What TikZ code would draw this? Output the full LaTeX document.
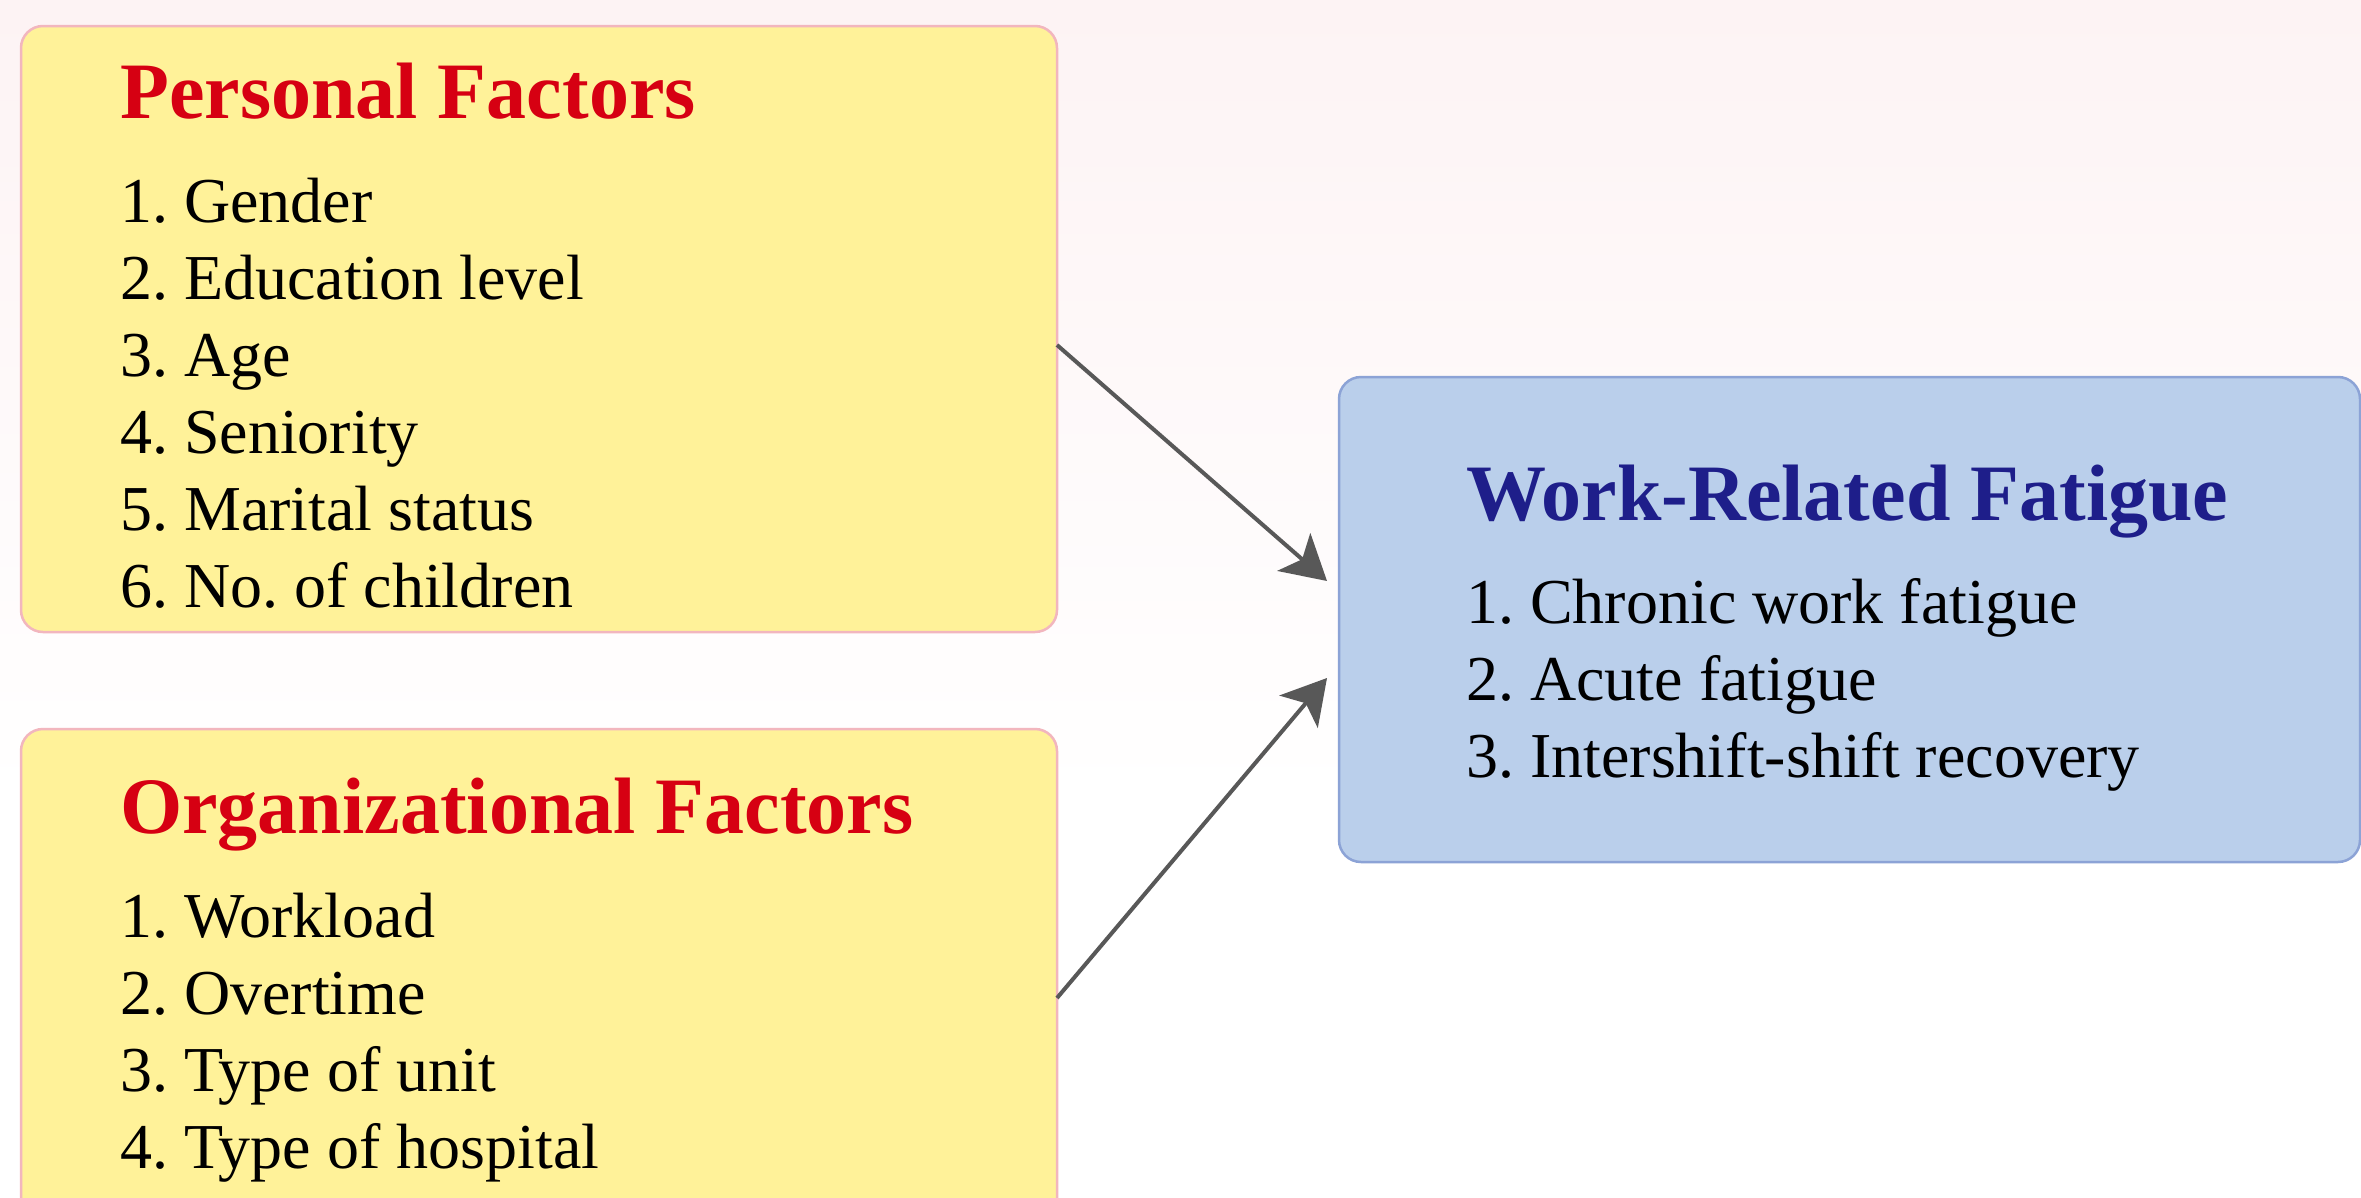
\documentclass[tikz,border=0pt]{standalone}
\usepackage{fontspec}
\setmainfont{Liberation Serif}
\usetikzlibrary{arrows.meta}
\definecolor{bgpink}{RGB}{253,243,244}
\definecolor{yfill}{RGB}{255,242,153}
\definecolor{ydraw}{RGB}{242,182,190}
\definecolor{bfill}{RGB}{186,207,235}
\definecolor{bdraw}{RGB}{140,163,214}
\definecolor{hred}{RGB}{214,0,18}
\definecolor{hblue}{RGB}{30,30,138}
\definecolor{arrowgray}{RGB}{88,88,88}
\frenchspacing
\begin{document}
\begin{tikzpicture}[x=1pt,y=-1pt,
  boxbase/.style={rectangle, anchor=north west, inner sep=0pt, outer sep=0pt, line width=2.5pt, rounded corners=22pt},
  factorbox/.style={boxbase, draw=ydraw, fill=yfill},
  outcomebox/.style={boxbase, draw=bdraw, fill=bfill},
  headtext/.style={anchor=base west, inner sep=0pt, font=\fontsize{80}{96}\selectfont\bfseries},
  itemtext/.style={anchor=base west, inner sep=0pt, text=black, font=\fontsize{64}{77}\selectfont},
  conn/.style={draw=arrowgray, line width=4pt, -{Stealth[length=44pt,width=50pt,inset=11pt]}}
]
\useasboundingbox (0,0) rectangle (2361,1197);
\clip (0,0) rectangle (2361,1197);
\fill[white] (0,0) rectangle (2361,1197);
\shade[top color=bgpink, bottom color=white] (0,0) rectangle (2361,800);

% boxes
\node[factorbox, minimum width=1036pt, minimum height=606pt] (b1) at (21,26) {};
\node[factorbox, minimum width=1036pt, minimum height=520pt] (b2) at (21,729) {};
\node[outcomebox, minimum width=1021pt, minimum height=485pt] (b3) at (1339,377) {};

% personal factors
\node[headtext, text=hred] (p0) at (120,118) {Personal Factors};
\node[itemtext] (p1) at (120,222) {1. Gender};
\node[itemtext] (p2) at (120,299) {2. Education level};
\node[itemtext] (p3) at (120,376) {3. Age};
\node[itemtext] (p4) at (120,453) {4. Seniority};
\node[itemtext] (p5) at (120,530) {5. Marital status};
\node[itemtext] (p6) at (120,607) {6. No. of children};

% organizational factors
\node[headtext, text=hred] (o0) at (120,833) {Organizational Factors};
\node[itemtext] (o1) at (120,937) {1. Workload};
\node[itemtext] (o2) at (120,1014) {2. Overtime};
\node[itemtext] (o3) at (120,1091) {3. Type of unit};
\node[itemtext] (o4) at (120,1168) {4. Type of hospital};

% work-related fatigue
\node[headtext, text=hblue] (w0) at (1466,520) {Work-Related Fatigue};
\node[itemtext] (w1) at (1466,623) {1. Chronic work fatigue};
\node[itemtext] (w2) at (1466,700) {2. Acute fatigue};
\node[itemtext] (w3) at (1466,777) {3. Intershift-shift recovery};

% connectors
\draw[conn] ([yshift=-16pt]b1.east) -- ([xshift=-12pt,yshift=38.5pt]b3.west);
\draw[conn] ([yshift=-9pt]b2.east) -- ([xshift=-12pt,yshift=-58.5pt]b3.west);
\end{tikzpicture}
\end{document}
